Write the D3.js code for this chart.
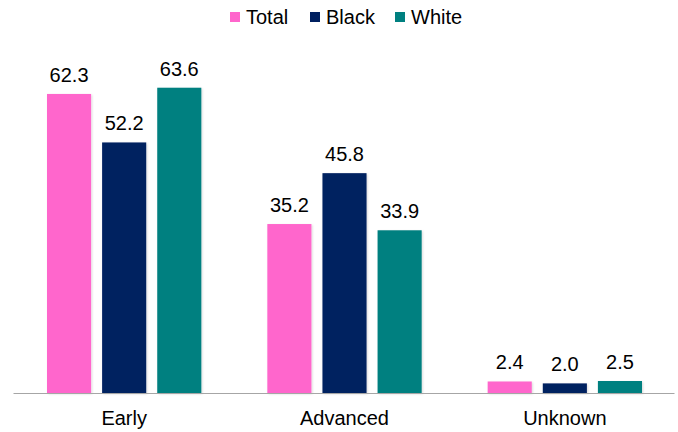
<!DOCTYPE html>
<html>
<head>
<meta charset="utf-8">
<script src="https://cdn.jsdelivr.net/npm/d3@7"></script>
<style>
	body { margin: 0; background: #fff; }
	svg text { font-family: 'Liberation Sans', Arial, sans-serif; fill: #000; }
</style>
</head>
<body>
<svg width="678" height="432"></svg>
<script>
const categories = ['Early', 'Advanced', 'Unknown'];
const seriesNames = ['Total', 'Black', 'White'];
const total = [62.3, 35.2, 2.4];
const black = [52.2, 45.8, 2.0];
const white = [63.6, 33.9, 2.5];
const colors = ['#ff66cc', '#002060', '#008080'];

const svg = d3.select('svg');
const margin = {top: 57, right: 4, bottom: 39, left: 13};
const width = 678 - margin.left - margin.right;
const height = 432 - margin.top - margin.bottom;

const x0 = d3.scaleBand().domain(categories).range([0, width]).paddingInner(0).paddingOuter(0);
const x1 = d3.scaleBand().domain(seriesNames).range([34, x0.bandwidth() - 32]).paddingInner(0.2);
const y = d3.scaleLinear().domain([0, 70]).range([height, 0]);
const color = d3.scaleOrdinal().domain(seriesNames).range(colors);

const defs = svg.append('defs');
const filter = defs.append('filter').attr('id', 'shadow').attr('x', '-10%').attr('y', '-10%').attr('width', '130%').attr('height', '130%');
filter.append('feDropShadow').attr('dx', 1).attr('dy', 1).attr('stdDeviation', 1).attr('flood-color', '#000').attr('flood-opacity', 0.15);

const g = svg.append('g')
	.attr('transform', 'translate(' + margin.left + ',' + margin.top + ')');

const rows = categories.map((c, i) => {
	return {cat: c, values: [total[i], black[i], white[i]].map((v, j) => {
		return {name: seriesNames[j], value: v};
	})};
});

const groups = g.selectAll('.group')
	.data(rows)
	.enter().append('g')
	.attr('transform', d => 'translate(' + x0(d.cat) + ',0)');

groups.selectAll('rect')
	.data(d => d.values)
	.enter().append('rect')
	.attr('x', d => x1(d.name))
	.attr('y', d => y(d.value))
	.attr('width', x1.bandwidth())
	.attr('height', d => height - y(d.value))
	.attr('fill', d => color(d.name))
	.attr('filter', 'url(#shadow)');

groups.selectAll('.label')
	.data(d => d.values)
	.enter().append('text')
	.attr('class', 'label')
	.attr('x', d => x1(d.name) + x1.bandwidth() / 2)
	.attr('y', d => y(d.value) - 12)
	.attr('text-anchor', 'middle')
	.style('font-size', '20px')
	.text(d => d.value.toFixed(1));

const xAxis = g.append('g')
	.attr('transform', 'translate(0,' + height + ')')
	.call(d3.axisBottom(x0).tickSize(0).tickPadding(18));
xAxis.select('.domain').attr('stroke', '#a6a6a6').attr('stroke-width', 1);
xAxis.selectAll('.tick text')
	.style('font-size', '20px')
	.attr('fill', '#000')
	.attr('x', x1.bandwidth() * 1.5 + 34 + (x1.step() - x1.bandwidth()) - x0.bandwidth() / 2);

// legend
const legendX = [230, 310, 395];
const legend = svg.append('g');
seriesNames.forEach((s, i) => {
	legend.append('rect')
		.attr('x', legendX[i])
		.attr('y', 12)
		.attr('width', 10)
		.attr('height', 10)
		.attr('fill', colors[i]);
	legend.append('text')
		.attr('x', legendX[i] + 16)
		.attr('y', 24)
		.style('font-size', '20px')
		.text(s);
});
</script>
</body>
</html>
